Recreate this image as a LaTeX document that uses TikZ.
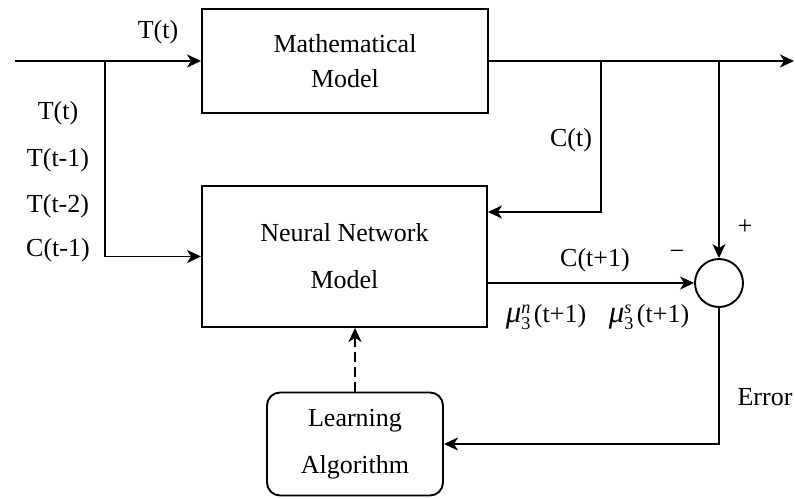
\documentclass[tikz,border=0pt]{standalone}
\usepackage{amsmath}
\usepackage{fontspec}
\setmainfont{Liberation Serif}
\usetikzlibrary{arrows.meta}

% mu with sub- and superscript, followed by its argument
\newcommand{\muterm}[1]{$\textit{\fontsize{31}{31}\selectfont μ}_{\textup{3}}^{\textit{#1}}$\hspace{3pt}(t+1)}

\begin{document}
\begin{tikzpicture}[x=1pt,y=-1pt,
  line width=1.9pt,
  font=\fontsize{26}{30}\selectfont,
  arr/.style={-{Stealth[length=14pt,width=13pt,inset=4pt]}},
  block/.style={draw,rectangle,inner sep=0pt,align=center},
  lbl/.style={inner sep=0pt,anchor=center}]
\useasboundingbox (0,0) rectangle (795,498);

% blocks
\node[block,minimum width=286pt,minimum height=104pt,
      font=\fontsize{26}{35}\selectfont] (math) at (345,61) {Mathematical\\Model};
\node[block,minimum width=285pt,minimum height=141pt,
      font=\fontsize{26}{47}\selectfont] (nn) at (344.5,256.5) {Neural Network\\Model};
\node[block,rounded corners=13pt,minimum width=176pt,minimum height=103pt,
      font=\fontsize{26}{47}\selectfont] (learn) at (355,444) {Learning\\Algorithm};
\node[draw,circle,minimum size=48pt,inner sep=0pt] (sum) at (719,283) {};

% signal line and branch points
\coordinate (in) at (15,61);
\coordinate (out) at (794,61);
\coordinate (b1) at (105,61);
\coordinate (b2) at (601,61);
\coordinate (b3) at (719,61);
\coordinate (ct) at (601,212);

% connectors
\draw[arr] (in) -- (in -| math.west);
\draw[arr] (in -| math.east) -- (out);
\draw[arr] (b1) |- (nn.west);
\draw[arr] (b2) -- (ct) -- (ct -| nn.east);
\draw[arr] (b3) -- (sum.north);
\draw[arr] (nn.east |- sum.west) -- (sum.west);
\draw[arr] (sum.south) |- (learn.east);
\draw[arr,dash pattern=on 10pt off 5pt] (learn.north) -- (learn.north |- nn.south);

% labels
\node[lbl] (lTt) at (158,32) {T(t)};
\node[lbl] (l1) at (58,113) {T(t)};
\node[lbl] (l2) at (58,160) {T(t-1)};
\node[lbl] (l3) at (58,206) {T(t-2)};
\node[lbl] (l4) at (58,250) {C(t-1)};
\node[lbl] (lCt) at (571,140) {C(t)};
\node[lbl] (lplus) at (745,227) {+};
\node[lbl] (lminus) at (677,255) {−};
\node[lbl] (lCt1) at (595,260) {C(t+1)};
\node[lbl] (lmun) at (546,317) {\muterm{n}};
\node[lbl] (lmus) at (649,317) {\muterm{s}};
\node[lbl] (lerr) at (765,397) {Error};
\end{tikzpicture}
\end{document}
